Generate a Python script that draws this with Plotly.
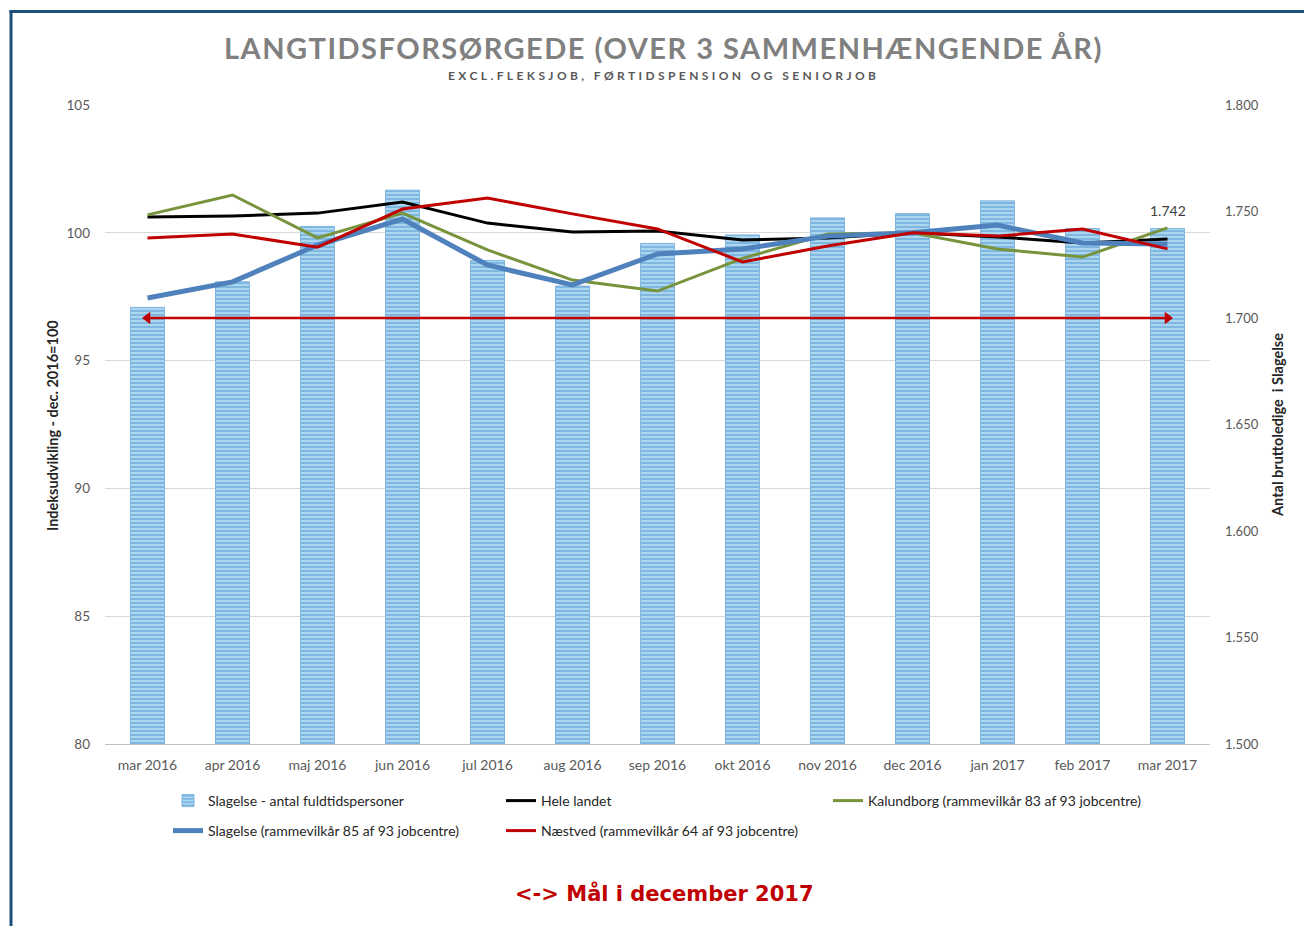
import plotly.graph_objects as go

categories = ["mar 2016", "apr 2016", "maj 2016", "jun 2016", "jul 2016", "aug 2016",
              "sep 2016", "okt 2016", "nov 2016", "dec 2016", "jan 2017", "feb 2017", "mar 2017"]

# right axis: antal fuldtidspersoner (bars)
slagelse_antal = [1705, 1717, 1743, 1760, 1727, 1715, 1735, 1739, 1747, 1749, 1755, 1742, 1742]

# left axis: index dec. 2016 = 100
hele_landet = [100.62, 100.66, 100.77, 101.2, 100.38, 100.03, 100.07, 99.72, 99.8, 100.0, 99.84, 99.6, 99.76]
kalundborg = [100.7, 101.48, 99.8, 100.77, 99.33, 98.15, 97.72, 99.0, 99.95, 100.0, 99.37, 99.05, 100.19]
slagelse_idx = [97.45, 98.08, 99.52, 100.54, 98.74, 97.96, 99.17, 99.37, 99.87, 100.0, 100.3, 99.6, 99.56]
naestved = [99.8, 99.95, 99.44, 100.93, 101.36, 100.74, 100.15, 98.86, 99.48, 100.0, 99.87, 100.15, 99.37]

target_value = 1700  # Mål i december 2017

right_ticks = [1500, 1550, 1600, 1650, 1700, 1750, 1800]

L = 105; R = 1210; T = 105; B = 744
W = 1304; H = 926
def px(xp): return (xp - L) / (R - L)
def py(yp): return (B - yp) / (B - T)

font_main = "Lato"
tick_col = "#595959"

fig = go.Figure()

fig.add_trace(go.Bar(
    x=categories, y=slagelse_antal, name="Slagelse - antal fuldtidspersoner",
    yaxis="y", width=0.4,
    marker=dict(color="#a9d4ee", line=dict(color="#7fb5df", width=1),
                pattern=dict(shape="-", fgcolor="#4f95d2", bgcolor="#b0d9f0", size=4, solidity=0.55)),
    legend="legend",
))

fig.add_trace(go.Scatter(
    x=[categories[0], categories[-1]], y=[target_value, target_value],
    yaxis="y", mode="lines+markers", showlegend=False,
    line=dict(color="#c00000", width=2.5),
    marker=dict(symbol=["triangle-left", "triangle-right"], size=11, color="#c00000"),
    cliponaxis=False, hoverinfo="skip",
))

fig.add_trace(go.Scatter(x=categories, y=hele_landet, name="Hele landet", yaxis="y2",
                         mode="lines", line=dict(color="#000000", width=3), legend="legend"))
fig.add_trace(go.Scatter(x=categories, y=kalundborg, name="Kalundborg (rammevilkår 83 af 93 jobcentre)",
                         yaxis="y2", mode="lines", line=dict(color="#77933c", width=3), legend="legend3"))
fig.add_trace(go.Scatter(x=categories, y=slagelse_idx, name="Slagelse (rammevilkår 85 af 93 jobcentre)",
                         yaxis="y2", mode="lines", line=dict(color="#4f81bd", width=5), legend="legend2"))
fig.add_trace(go.Scatter(x=categories, y=naestved, name="Næstved (rammevilkår 64 af 93 jobcentre)",
                         yaxis="y2", mode="lines", line=dict(color="#c00000", width=3), legend="legend2"))

legend_common = dict(orientation="h", font=dict(family=font_main, size=14, color="#262626"),
                     entrywidth=288, entrywidthmode="pixels", bgcolor="rgba(0,0,0,0)",
                     xanchor="left", yanchor="middle", itemwidth=30)

fig.update_layout(
    width=W, height=H,
    margin=dict(l=L, r=W - R, t=T, b=H - B, autoexpand=False),
    paper_bgcolor="white", plot_bgcolor="white",
    separators=",.",
    font=dict(family=font_main, color=tick_col),
    showlegend=True,
    legend=dict(x=px(168), y=py(801), **legend_common),
    legend2=dict(x=px(168), y=py(831), **legend_common),
    legend3=dict(x=px(828), y=py(801), **legend_common),
    xaxis=dict(type="category", range=[-0.5, len(categories) - 0.5],
               showline=True, linecolor="#bfbfbf", linewidth=1,
               showgrid=False, ticks="", tickfont=dict(size=14, color=tick_col),
               ticklabelstandoff=8),
    yaxis=dict(side="right", range=[1500, 1800],
               tickvals=right_ticks,
               ticktext=[f"{v:,}".replace(",", ".") for v in right_ticks],
               showgrid=False, zeroline=False, ticks="",
               tickfont=dict(size=13, color=tick_col), ticklabelstandoff=14),
    yaxis2=dict(side="left", overlaying="y", range=[80, 105], dtick=5,
                showgrid=True, gridcolor="#d9d9d9", gridwidth=1, zeroline=False, ticks="",
                tickfont=dict(size=13.5, color=tick_col), ticklabelstandoff=14),
)

annotations = [
    dict(text="<span style='letter-spacing:1.5px'>LANGTIDSFORSØRGEDE (OVER 3 SAMMENHÆNGENDE ÅR)</span>",
         xref="paper", yref="paper",
         x=px(663), y=py(47), xanchor="center", yanchor="middle", showarrow=False,
         font=dict(family=font_main, size=29, color="#808080", weight="bold")),
    dict(text="<span style='letter-spacing:3.4px'>EXCL.FLEKSJOB, FØRTIDSPENSION OG SENIORJOB</span>",
         xref="paper", yref="paper", x=px(663), y=py(75), xanchor="center", yanchor="middle",
         showarrow=False, font=dict(family=font_main, size=12, color="#595959", weight="bold")),
    dict(text="Indeksudvikling - dec. 2016=100", xref="paper", yref="paper",
         x=px(53), y=py(426), textangle=-90, xanchor="center", yanchor="middle", showarrow=False,
         font=dict(family=font_main, size=14.5, color="#262626", weight="bold")),
    dict(text="Antal bruttoledige  i Slagelse", xref="paper", yref="paper",
         x=px(1277), y=py(425), textangle=-90, xanchor="center", yanchor="middle", showarrow=False,
         font=dict(family=font_main, size=14.5, color="#262626", weight="bold")),
    dict(text=f"{slagelse_antal[-1]:,}".replace(",", "."), x=categories[-1], y=slagelse_antal[-1],
         xref="x", yref="y", yanchor="bottom", yshift=8, showarrow=False,
         font=dict(family=font_main, size=14, color="#404040")),
    dict(text="<-> Mål i december 2017", xref="paper", yref="paper",
         x=px(664), y=py(893), xanchor="center", yanchor="middle", showarrow=False,
         font=dict(family="DejaVu Sans", size=21, color="#c00000", weight="bold")),
]
fig.update_layout(annotations=annotations)

border_col = "#1f4e79"
fig.update_layout(shapes=[
    dict(type="line", xref="paper", yref="paper", x0=px(9.5), x1=px(1304), y0=py(11.5), y1=py(11.5),
         line=dict(color=border_col, width=3), layer="above"),
    dict(type="line", xref="paper", yref="paper", x0=px(11), x1=px(11), y0=py(10), y1=py(926),
         line=dict(color=border_col, width=3), layer="above"),
])

fig.write_html("out.html", config={"displayModeBar": False},
               post_script="document.body.style.margin='0';document.body.style.overflow='hidden';")
